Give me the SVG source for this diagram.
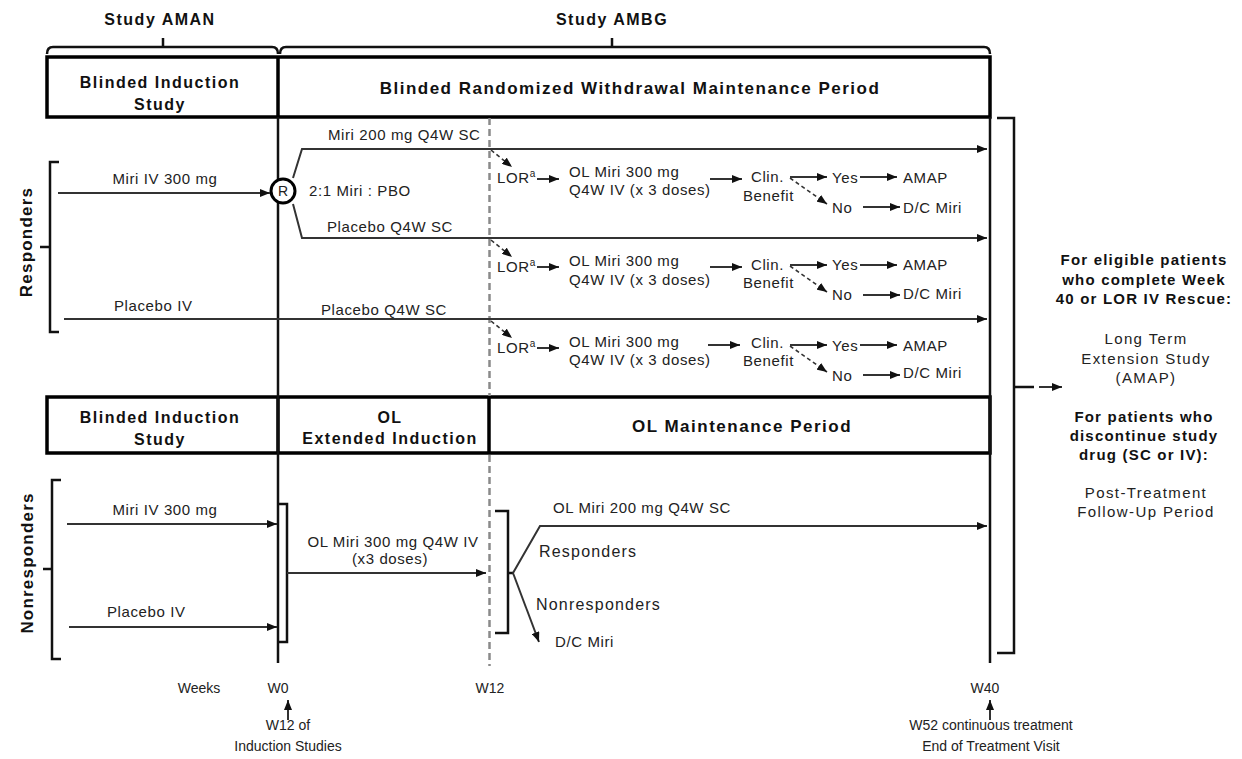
<svg xmlns="http://www.w3.org/2000/svg" width="1242" height="759" viewBox="0 0 1242 759">
<style>
.b{font-family:"Liberation Sans",Arial,sans-serif;font-weight:bold;fill:#111;font-size:16px;letter-spacing:1.5px;}
.bh{font-size:17px;}
.t{font-family:"Liberation Sans",Arial,sans-serif;fill:#222;font-size:15px;letter-spacing:0.6px;}
.r{font-family:"Liberation Sans",Arial,sans-serif;fill:#222;font-size:15px;letter-spacing:1.4px;}
.w{font-family:"Liberation Sans",Arial,sans-serif;fill:#222;font-size:14px;}
.sup{font-size:10px;}
.box{fill:none;stroke:#000;stroke-width:3.5;}
.ln{fill:none;stroke:#333;stroke-width:2;}
.arr{fill:none;stroke:#333;stroke-width:2;marker-end:url(#ah);}
.dsh{fill:none;stroke:#333;stroke-width:1.6;stroke-dasharray:4 3;marker-end:url(#ah);}
.brk{fill:none;stroke:#111;stroke-width:2.5;}
.vl{fill:none;stroke:#111;stroke-width:2.5;}
.gd{fill:none;stroke:#8a8a8a;stroke-width:2.5;stroke-dasharray:7 4;}
</style>
<defs>
<marker id="ah" viewBox="0 0 10 8" refX="10" refY="4" markerWidth="10" markerHeight="8" markerUnits="userSpaceOnUse" orient="auto"><path d="M0,0L10,4L0,8z" fill="#111"/></marker>
</defs>

<g id="study-titles">
<text class="b" x="160" y="25" text-anchor="middle">Study AMAN</text>
<text class="b" x="612" y="25" text-anchor="middle">Study AMBG</text>
<path class="brk" d="M47,54 Q47,47 53,47 L272,47 Q278,47 278,54 M163,47 L163,38"/>
<path class="brk" d="M280,54 Q280,47 286,47 L984,47 Q990,47 990,54 M612,47 L612,38"/>
</g>

<g id="header-top">
<rect class="box" x="47" y="57" width="943" height="60"/>
<line class="box" x1="278" y1="57" x2="278" y2="117"/>
<text class="b" x="160" y="88" text-anchor="middle">Blinded Induction</text>
<text class="b" x="160" y="110" text-anchor="middle">Study</text>
<text class="b bh" x="630" y="94" text-anchor="middle">Blinded Randomized Withdrawal Maintenance Period</text>
</g>

<g id="header-bottom">
<rect class="box" x="47" y="397" width="943" height="56"/>
<line class="box" x1="278" y1="397" x2="278" y2="453"/>
<line class="box" x1="489" y1="397" x2="489" y2="453"/>
<text class="b" x="160" y="423" text-anchor="middle">Blinded Induction</text>
<text class="b" x="160" y="445" text-anchor="middle">Study</text>
<text class="b" x="390" y="423" text-anchor="middle">OL</text>
<text class="b" x="390" y="444" text-anchor="middle">Extended Induction</text>
<text class="b bh" x="742" y="432" text-anchor="middle">OL Maintenance Period</text>
</g>

<g id="timelines">
<line class="vl" x1="278" y1="117" x2="278" y2="663"/>
<line class="vl" x1="990" y1="117" x2="990" y2="663"/>
<line class="gd" x1="489.5" y1="118" x2="489.5" y2="396"/>
<line class="gd" x1="489.5" y1="455" x2="489.5" y2="666"/>
</g>

<g id="group-labels">
<path class="brk" d="M59,162 L50,162 L50,332 L59,332 M50,247 L40,247"/>
<text class="b" style="font-size:17px;letter-spacing:1.2px" transform="translate(32,242) rotate(-90)" text-anchor="middle">Responders</text>
<path class="brk" d="M61,480 L52,480 L52,659 L61,659 M52,569 L43,569"/>
<text class="b" style="font-size:17px;letter-spacing:1.2px" transform="translate(33,563) rotate(-90)" text-anchor="middle">Nonresponders</text>
</g>

<g id="randomization">
<circle cx="283" cy="191" r="12" fill="#fff" stroke="#000" stroke-width="3"/>
<text class="w" x="283" y="196" text-anchor="middle" style="font-size:14px">R</text>
<text class="t" x="309" y="196">2:1 Miri : PBO</text>
</g>

<g id="connectors">
<line class="arr" x1="58" y1="193" x2="270" y2="193"/>
<path class="arr" d="M293,178 L302,149 L987,149"/>
<path class="arr" d="M293,204 L302,238 L987,238"/>
<line class="arr" x1="64" y1="319" x2="987" y2="319"/>
<line class="dsh" x1="491" y1="150" x2="512" y2="167"/>
<line class="dsh" x1="491" y1="240" x2="512" y2="257"/>
<line class="dsh" x1="491" y1="321" x2="512" y2="338"/>
<line class="arr" x1="537" y1="179" x2="559" y2="179"/>
<line class="arr" x1="537" y1="267" x2="559" y2="267"/>
<line class="arr" x1="537" y1="348" x2="559" y2="348"/>
<line class="arr" x1="710" y1="179" x2="742" y2="179"/>
<line class="arr" x1="710" y1="267" x2="742" y2="267"/>
<line class="arr" x1="708" y1="345" x2="740" y2="345"/>
<line class="arr" x1="790" y1="177" x2="827" y2="177"/>
<line class="arr" x1="790" y1="265" x2="827" y2="265"/>
<line class="arr" x1="790" y1="345" x2="827" y2="345"/>
<line class="dsh" x1="790" y1="178" x2="827" y2="204"/>
<line class="dsh" x1="790" y1="266" x2="827" y2="292"/>
<line class="dsh" x1="790" y1="346" x2="827" y2="372"/>
<line class="arr" x1="860" y1="177" x2="897" y2="177"/>
<line class="arr" x1="860" y1="265" x2="897" y2="265"/>
<line class="arr" x1="860" y1="345" x2="897" y2="345"/>
<line class="arr" x1="863" y1="207" x2="900" y2="207"/>
<line class="arr" x1="863" y1="295" x2="900" y2="295"/>
<line class="arr" x1="863" y1="375" x2="900" y2="375"/>
<line class="arr" x1="67" y1="524" x2="277" y2="524"/>
<line class="arr" x1="69" y1="627" x2="277" y2="627"/>
<path class="brk" d="M278,504 L287,504 L287,642 L278,642"/>
<line class="arr" x1="287" y1="573" x2="486" y2="573"/>
<path class="brk" d="M495,511 L508,511 L508,633 L495,633 M508,573 L513,573"/>
<path class="arr" d="M513,573 L540,526 L987,526"/>
<line class="arr" x1="513" y1="573" x2="539" y2="642"/>
<path class="brk" d="M997,118 L1014,118 L1014,653 L997,653 M1014,387 L1034,387"/>
<line class="arr" x1="1039" y1="387" x2="1062" y2="387"/>
<line class="arr" x1="288" y1="720" x2="288" y2="700"/>
<line class="arr" x1="990" y1="720" x2="990" y2="700"/>
</g>

<g id="arm-labels">
<text class="t" x="165" y="184" text-anchor="middle">Miri IV 300 mg</text>
<text class="t" x="114" y="311">Placebo IV</text>
<text class="t" x="328" y="140">Miri 200 mg Q4W SC</text>
<text class="t" x="327" y="232">Placebo Q4W SC</text>
<text class="t" x="321" y="315">Placebo Q4W SC</text>
<text class="t" x="165" y="515" text-anchor="middle">Miri IV 300 mg</text>
<text class="t" x="107" y="617">Placebo IV</text>
<text class="t" x="393" y="547" text-anchor="middle">OL Miri 300 mg Q4W IV</text>
<text class="t" x="390" y="564" text-anchor="middle">(x3 doses)</text>
<text class="t" x="553" y="513">OL Miri 200 mg Q4W SC</text>
<text class="t" x="539" y="557" style="font-size:16px;letter-spacing:1.2px">Responders</text>
<text class="t" x="536" y="610" style="font-size:16px;letter-spacing:1.2px">Nonresponders</text>
<text class="t" x="555" y="647">D/C Miri</text>
</g>

<g id="rescue-1">
<text class="t" x="497" y="183">LOR<tspan class="sup" dy="-6">a</tspan></text>
<text class="t" x="569" y="177">OL Miri 300 mg</text>
<text class="t" x="569" y="195">Q4W IV (x 3 doses)</text>
<text class="t" x="751" y="182">Clin.</text>
<text class="t" x="743" y="201">Benefit</text>
<text class="t" x="832" y="183">Yes</text>
<text class="t" x="903" y="183">AMAP</text>
<text class="t" x="832" y="213">No</text>
<text class="t" x="903" y="213">D/C Miri</text>
</g>
<g id="rescue-2">
<text class="t" x="497" y="272">LOR<tspan class="sup" dy="-6">a</tspan></text>
<text class="t" x="569" y="266">OL Miri 300 mg</text>
<text class="t" x="569" y="285">Q4W IV (x 3 doses)</text>
<text class="t" x="751" y="270">Clin.</text>
<text class="t" x="743" y="288">Benefit</text>
<text class="t" x="832" y="270">Yes</text>
<text class="t" x="903" y="270">AMAP</text>
<text class="t" x="832" y="300">No</text>
<text class="t" x="903" y="299">D/C Miri</text>
</g>
<g id="rescue-3">
<text class="t" x="497" y="353">LOR<tspan class="sup" dy="-6">a</tspan></text>
<text class="t" x="569" y="347">OL Miri 300 mg</text>
<text class="t" x="569" y="365">Q4W IV (x 3 doses)</text>
<text class="t" x="751" y="348">Clin.</text>
<text class="t" x="743" y="366">Benefit</text>
<text class="t" x="832" y="351">Yes</text>
<text class="t" x="903" y="351">AMAP</text>
<text class="t" x="832" y="381">No</text>
<text class="t" x="903" y="378">D/C Miri</text>
</g>

<g id="outcomes">
<text class="b" style="font-size:15px;letter-spacing:1.2px" x="1144" y="265" text-anchor="middle">For eligible patients</text>
<text class="b" style="font-size:15px;letter-spacing:1.2px" x="1144" y="285" text-anchor="middle">who complete Week</text>
<text class="b" style="font-size:15px;letter-spacing:1.2px" x="1144" y="304" text-anchor="middle">40 or LOR IV Rescue:</text>
<text class="r" x="1146" y="344" text-anchor="middle">Long Term</text>
<text class="r" x="1146" y="364" text-anchor="middle">Extension Study</text>
<text class="r" x="1146" y="383" text-anchor="middle">(AMAP)</text>
<text class="b" style="font-size:15px;letter-spacing:1.2px" x="1144" y="422" text-anchor="middle">For patients who</text>
<text class="b" style="font-size:15px;letter-spacing:1.2px" x="1144" y="441" text-anchor="middle">discontinue study</text>
<text class="b" style="font-size:15px;letter-spacing:1.2px" x="1144" y="460" text-anchor="middle">drug (SC or IV):</text>
<text class="r" x="1146" y="498" text-anchor="middle">Post-Treatment</text>
<text class="r" x="1146" y="517" text-anchor="middle">Follow-Up Period</text>
</g>

<g id="week-axis">
<text class="w" x="199" y="693" text-anchor="middle">Weeks</text>
<text class="w" x="278" y="693" text-anchor="middle">W0</text>
<text class="w" x="490" y="693" text-anchor="middle">W12</text>
<text class="w" x="985" y="693" text-anchor="middle">W40</text>
<text class="w" x="288" y="730" text-anchor="middle">W12 of</text>
<text class="w" x="288" y="751" text-anchor="middle">Induction Studies</text>
<text class="w" x="991" y="730" text-anchor="middle">W52 continuous treatment</text>
<text class="w" x="991" y="751" text-anchor="middle">End of Treatment Visit</text>
</g>
</svg>
